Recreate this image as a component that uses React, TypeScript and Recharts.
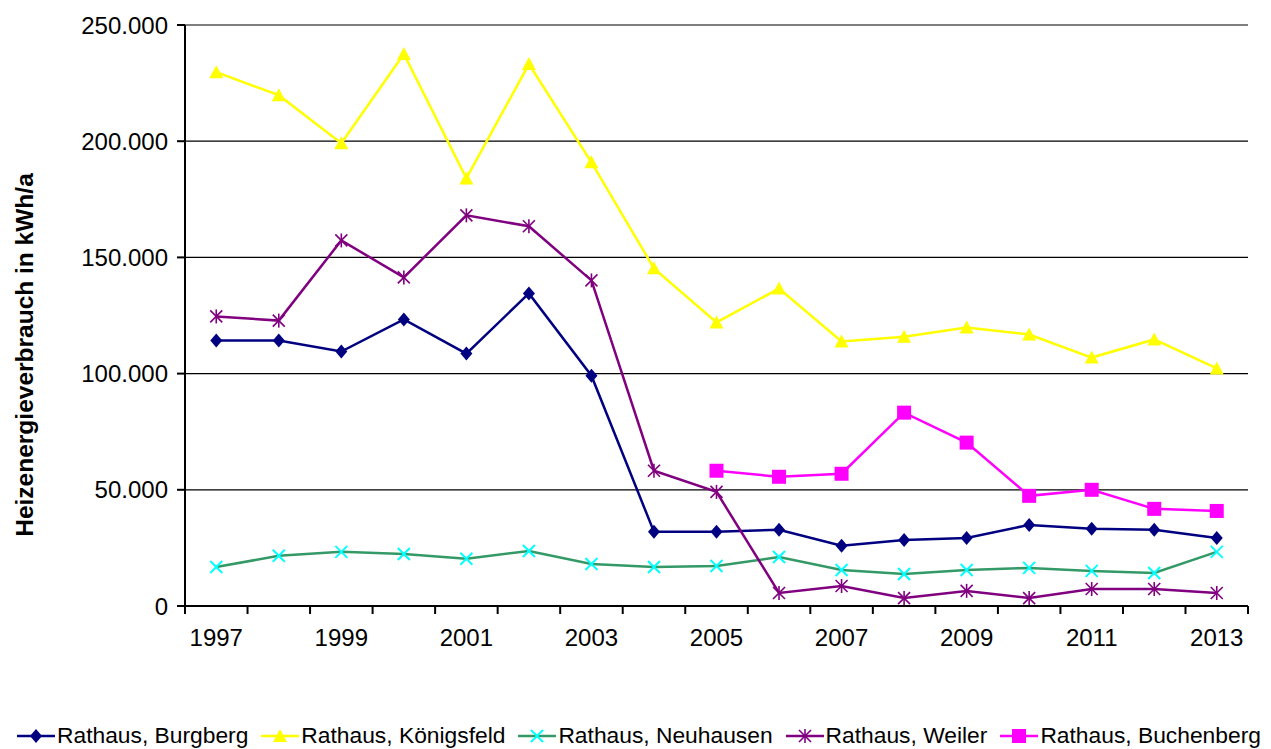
import React from "react";
import {
  LineChart,
  Line,
  XAxis,
  YAxis,
  CartesianGrid,
  Legend,
} from "recharts";

const years = [
  "1997", "1998", "1999", "2000", "2001", "2002", "2003", "2004", "2005",
  "2006", "2007", "2008", "2009", "2010", "2011", "2012", "2013",
];

const burgberg = [
  114200, 114200, 109500, 123300, 108600, 134500, 99100, 31900, 31900,
  32800, 25900, 28400, 29300, 34900, 33200, 32800, 29300,
];
const koenigsfeld = [
  229700, 219800, 199100, 237500, 184000, 233200, 190900, 145300, 122000,
  136600, 113800, 115900, 119800, 116800, 106900, 114700, 102200,
];
const neuhausen = [
  16800, 21600, 23300, 22400, 20300, 23700, 18100, 16800, 17200,
  21100, 15500, 13800, 15500, 16400, 15100, 14200, 23300,
];
const weiler = [
  124600, 122800, 157300, 141400, 168100, 163400, 140100, 58200, 49100,
  5600, 8600, 3400, 6500, 3400, 7300, 7300, 5600,
];
const buchenberg = [
  null, null, null, null, null, null, null, null, 58200,
  55600, 56900, 83200, 70300, 47400, 50000, 41800, 40900,
];

const yTicks = [0, 50000, 100000, 150000, 200000, 250000];

const data = years.map((year, i) => ({
  year,
  burgberg: burgberg[i],
  koenigsfeld: koenigsfeld[i],
  neuhausen: neuhausen[i],
  weiler: weiler[i],
  buchenberg: buchenberg[i],
}));

const FONT = "'Liberation Sans', Arial, sans-serif";
const HALF_STEP = 31.25;

const SERIES = [
  { key: "burgberg", name: "Rathaus, Burgberg", line: "#000080", marker: "diamond", mColor: "#000080" },
  { key: "koenigsfeld", name: "Rathaus, Königsfeld", line: "#FFFF00", marker: "triangle", mColor: "#FFFF00" },
  { key: "neuhausen", name: "Rathaus, Neuhausen", line: "#339966", marker: "cross", mColor: "#00FFFF" },
  { key: "weiler", name: "Rathaus, Weiler", line: "#800080", marker: "star", mColor: "#800080" },
  { key: "buchenberg", name: "Rathaus, Buchenberg", line: "#FF00FF", marker: "square", mColor: "#FF00FF" },
];

const fmt = (v: number) => String(v).replace(/\B(?=(\d{3})+(?!\d))/g, ".");

function Marker({ type, cx, cy, color }: any) {
  switch (type) {
    case "diamond":
      return (
        <polygon
          points={`${cx},${cy - 7} ${cx + 6},${cy} ${cx},${cy + 7} ${cx - 6},${cy}`}
          fill={color}
        />
      );
    case "triangle":
      return (
        <polygon
          points={`${cx},${cy - 7} ${cx + 7},${cy + 6} ${cx - 7},${cy + 6}`}
          fill={color}
        />
      );
    case "cross":
      return (
        <g stroke={color} strokeWidth={2}>
          <line x1={cx - 6} y1={cy - 6} x2={cx + 6} y2={cy + 6} />
          <line x1={cx - 6} y1={cy + 6} x2={cx + 6} y2={cy - 6} />
        </g>
      );
    case "star":
      return (
        <g stroke={color} strokeWidth={1.6}>
          <line x1={cx - 6} y1={cy - 6} x2={cx + 6} y2={cy + 6} />
          <line x1={cx - 6} y1={cy + 6} x2={cx + 6} y2={cy - 6} />
          <line x1={cx} y1={cy - 7} x2={cx} y2={cy + 7} />
        </g>
      );
    default:
      return <rect x={cx - 7} y={cy - 7} width={14} height={14} fill={color} />;
  }
}

function makeDot(type: string, color: string) {
  return (p: any) => {
    if (p.value == null || p.cy == null) return <g key={p.index} />;
    return (
      <g key={p.index}>
        <Marker type={type} cx={p.cx} cy={p.cy} color={color} />
      </g>
    );
  };
}

function YearTick({ x, y, payload, index }: any) {
  const last = index === years.length - 1;
  return (
    <g>
      <line x1={x - HALF_STEP} y1={y} x2={x - HALF_STEP} y2={y + 8} stroke="#000" strokeWidth={2} />
      {last && (
        <line x1={x + HALF_STEP} y1={y} x2={x + HALF_STEP} y2={y + 8} stroke="#000" strokeWidth={2} />
      )}
      {index % 2 === 0 && (
        <text x={x} y={y + 40} textAnchor="middle" fontSize={24} fill="#000" fontFamily={FONT}>
          {payload.value}
        </text>
      )}
    </g>
  );
}

function AxisTitle() {
  return (
    <text
      x={33}
      y={355}
      transform="rotate(-90 33 355)"
      textAnchor="middle"
      fontSize={24.5}
      fontWeight="bold"
      fill="#000"
      fontFamily={FONT}
    >
      Heizenergieverbrauch in kWh/a
    </text>
  );
}

function LegendContent() {
  return (
    <div
      style={{
        display: "flex",
        alignItems: "center",
        fontFamily: FONT,
        fontSize: 22.8,
        color: "#000",
        whiteSpace: "nowrap",
        paddingLeft: 17,
      }}
    >
      {SERIES.map((s) => (
        <div key={s.key} style={{ display: "flex", alignItems: "center", marginRight: 13 }}>
          <svg width={38} height={20} style={{ marginRight: 2 }}>
            <line x1={0} y1={10} x2={38} y2={10} stroke={s.line} strokeWidth={2.5} />
            <Marker type={s.marker} cx={19} cy={10} color={s.mColor} />
          </svg>
          <span>{s.name}</span>
        </div>
      ))}
    </div>
  );
}

export default function App() {
  return (
    <div style={{ position: "absolute", left: 0, top: 0, background: "#fff" }}>
      <LineChart
        width={1271}
        height={749}
        data={data}
        margin={{ top: 25, right: 23, bottom: 0, left: 0 }}
      >
        <CartesianGrid vertical={false} stroke="#000" strokeWidth={1.2} />
        <XAxis
          dataKey="year"
          interval={0}
          padding={{ left: HALF_STEP, right: HALF_STEP }}
          tickLine={false}
          tickSize={0}
          tickMargin={0}
          tick={<YearTick />}
          axisLine={{ stroke: "#000", strokeWidth: 2 }}
          height={116}
        />
        <YAxis
          domain={[0, 250000]}
          ticks={yTicks}
          tickFormatter={fmt}
          width={185}
          tickSize={8}
          tickMargin={9}
          tick={{ fontSize: 24, fill: "#000", fontFamily: FONT }}
          tickLine={{ stroke: "#000", strokeWidth: 2 }}
          axisLine={{ stroke: "#000", strokeWidth: 2 }}
          label={{ content: <AxisTitle /> }}
        />
        <YAxis
          yAxisId="right"
          orientation="right"
          width={0}
          tick={false}
          tickLine={false}
          axisLine={{ stroke: "#c8c8c8", strokeWidth: 1.5 }}
        />
        {SERIES.map((s) => (
          <Line
            key={s.key}
            dataKey={s.key}
            name={s.name}
            stroke={s.line}
            strokeWidth={2.5}
            dot={makeDot(s.marker, s.mColor)}
            activeDot={false}
            isAnimationActive={false}
            connectNulls={false}
          />
        ))}
        <Legend
          verticalAlign="bottom"
          content={<LegendContent />}
          wrapperStyle={{ left: 0, bottom: 0, width: 1271 }}
        />
      </LineChart>
    </div>
  );
}
